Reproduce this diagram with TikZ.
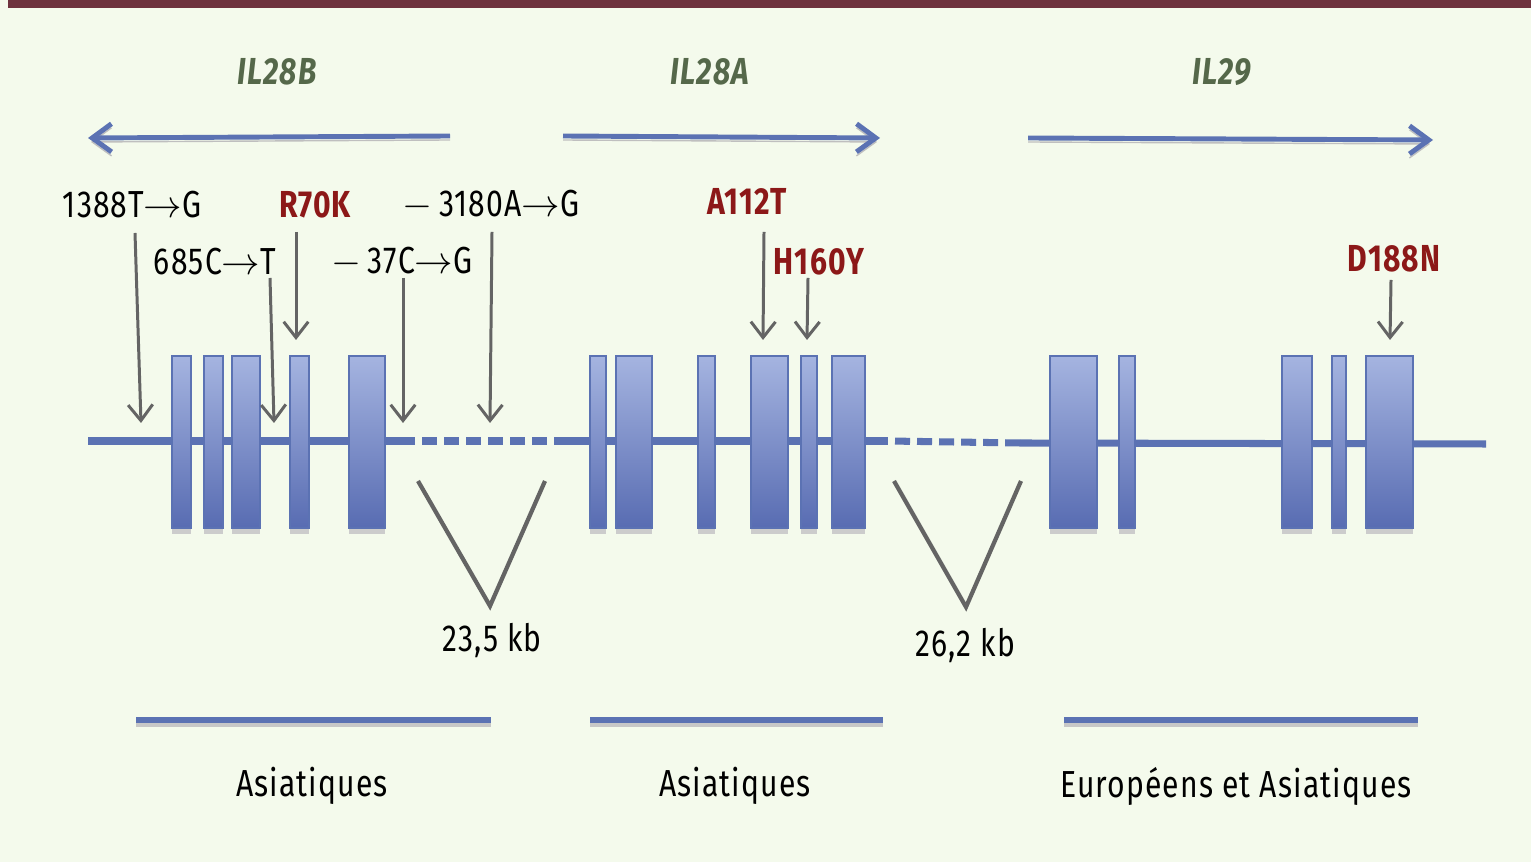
\documentclass[tikz,border=0pt]{standalone}
\usepackage{fontspec}
\setmainfont[FakeStretch=0.8,LetterSpace=3]{Fira Sans}
\usetikzlibrary{arrows.meta}

\definecolor{bgpale}{RGB}{244,250,236}
\definecolor{topbar}{RGB}{110,50,62}
\definecolor{geneblue}{RGB}{91,114,179}
\definecolor{exontop}{RGB}{165,180,224}
\definecolor{exonbot}{RGB}{88,108,178}
\definecolor{snpgray}{RGB}{100,100,100}
\definecolor{mutred}{RGB}{140,24,24}
\definecolor{genegreen}{RGB}{85,104,74}

\begin{document}
\begin{tikzpicture}[x=0.01cm, y=-0.01cm,
    gene name/.style={font=\fontsize{10.7}{12}\selectfont\bfseries\itshape, text=genegreen},
    snp label/.style={font=\fontsize{10.7}{12}\selectfont, inner sep=1pt},
    mut label/.style={font=\fontsize{10.7}{12}\selectfont\bfseries, text=mutred, inner sep=1pt},
    pop label/.style={font=\fontsize{10.7}{12}\selectfont},
    kb label/.style={font=\fontsize{10.7}{12}\selectfont},
    gene arrow/.style={line width=1.4pt, draw=geneblue,
      -{Straight Barb[length=5.5pt,width=8pt]},
      preaction={draw=black!25, transform canvas={yshift=-0.04cm}}},
    snp/.style={line width=0.85pt, draw=snpgray, -{Straight Barb[length=4.5pt,width=7pt]}},
    exon/.style={draw=geneblue, line width=0.8pt, top color=exontop, bottom color=exonbot},
    dna/.style={line width=2pt, draw=geneblue},
    gap/.style={dna, dash pattern=on 0.15cm off 0.07cm, dash phase=0.15cm},
    vee/.style={line width=1.2pt, draw=snpgray},
    pop bar/.style={line width=1.6pt, draw=geneblue,
      preaction={draw=black!22, line width=2.2pt, transform canvas={yshift=-0.03cm}}}]

  \useasboundingbox (0,0) rectangle (1531,862);
  \fill[bgpale] (0,0) rectangle (1531,862);
  \fill[topbar] (8,0) rectangle (1531,8);

  % gene names and orientation
  \node[gene name] (n28b) at (277,72) {IL28B};
  \node[gene name] (n28a) at (710,72) {IL28A};
  \node[gene name] (n29)  at (1222,72) {IL29};

  \coordinate (b1) at (450,136);  \coordinate (b2) at (88,138);
  \coordinate (a1) at (563,136);  \coordinate (a2) at (880,138);
  \coordinate (c1) at (1028,138); \coordinate (c2) at (1433,140);
  \draw[gene arrow] (b1) -- (b2);
  \draw[gene arrow] (a1) -- (a2);
  \draw[gene arrow] (c1) -- (c2);

  % DNA line
  \coordinate (d0) at (88,441);   \coordinate (d1) at (415,441);
  \coordinate (d2) at (563,441);  \coordinate (d3) at (888,441);
  \coordinate (d4) at (1020,443); \coordinate (d5) at (1486,444);
  \draw[dna] (d0) -- (d1);
  \draw[gap] (d1) -- (d2);
  \draw[dna] (d2) -- (d3);
  \draw[gap] (d3) -- (d4);
  \draw[dna] (d4) -- (d5);

  % exons
  \foreach \xa/\xb in {172/191, 204/223, 232/260, 290/309, 349/385,
                       590/606, 616/652, 698/715, 751/788, 801/817, 832/865,
                       1050/1097, 1119/1135, 1282/1312, 1332/1346, 1366/1413}
  {
    \fill[black!20] (\xa,528) rectangle (\xb,534);
    \path[exon] (\xa,356) rectangle (\xb,528);
  }

  % introns
  \coordinate (v1l) at (418,481); \coordinate (v1b) at (490,606); \coordinate (v1r) at (545,481);
  \coordinate (v2l) at (894,481); \coordinate (v2b) at (966,607); \coordinate (v2r) at (1021,481);
  \draw[vee] (v1l) -- (v1b) -- (v1r);
  \draw[vee] (v2l) -- (v2b) -- (v2r);
  \node[kb label] (kb1) at (492,641) {23,5 kb};
  \node[kb label] (kb2) at (965,646) {26,2 kb};

  % variants
  \node[snp label] (s1388) at (132,205) {1388T$\rightarrow$G};
  \node[snp label] (s685)  at (215,262) {685C$\rightarrow$T};
  \node[mut label] (r70k)  at (315,205) {R70K};
  \node[snp label] (s37)   at (402,262) {$-$\,37C$\rightarrow$G};
  \node[snp label] (s3180) at (491,205) {$-$\,3180A$\rightarrow$G};
  \node[mut label] (a112t) at (747,201) {A112T};
  \node[mut label] (h160y) at (819,262) {H160Y};
  \node[mut label] (d188n) at (1394,259) {D188N};

  \coordinate (p1) at (135,233);  \coordinate (q1) at (141,423);
  \coordinate (p2) at (270,278);  \coordinate (q2) at (274,423);
  \coordinate (p3) at (296,232);  \coordinate (q3) at (296,340);
  \coordinate (p4) at (403,278);  \coordinate (q4) at (403,423);
  \coordinate (p5) at (492,232);  \coordinate (q5) at (490,423);
  \coordinate (p6) at (764,232);  \coordinate (q6) at (763,340);
  \coordinate (p7) at (808,278);  \coordinate (q7) at (807,340);
  \coordinate (p8) at (1391,280); \coordinate (q8) at (1390,340);
  \foreach \i in {1,...,8}
    \draw[snp] (p\i) -- (q\i);

  % populations
  \coordinate (e1) at (136,720);  \coordinate (f1) at (491,720);
  \coordinate (e2) at (590,720);  \coordinate (f2) at (883,720);
  \coordinate (e3) at (1064,720); \coordinate (f3) at (1418,720);
  \draw[pop bar] (e1) -- (f1);
  \draw[pop bar] (e2) -- (f2);
  \draw[pop bar] (e3) -- (f3);
  \node[pop label] (pop1) at (312,786) {Asiatiques};
  \node[pop label] (pop2) at (735,786) {Asiatiques};
  \node[pop label] (pop3) at (1236,786) {Européens et Asiatiques};
\end{tikzpicture}
\end{document}
